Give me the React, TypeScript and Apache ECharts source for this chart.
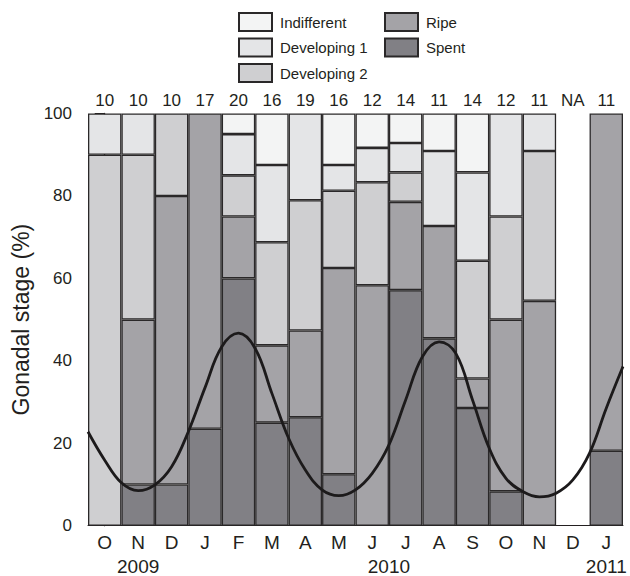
import React, { useEffect, useRef } from 'react';
import * as echarts from 'echarts';

const months = ['O', 'N', 'D', 'J', 'F', 'M', 'A', 'M', 'J', 'J', 'A', 'S', 'O', 'N', 'D', 'J'];
const sampleSizes = ['10', '10', '10', '17', '20', '16', '19', '16', '12', '14', '11', '14', '12', '11', 'NA', '11'];
const yearPositions = [1, 8.5, 15];
const yearLabels = ['2009', '2010', '2011'];

const indifferent = [0, 0, 0, 0, 5, 12.5, 0, 12.5, 8.33, 7.14, 9.09, 14.29, 0, 0, null, 0];
const developing1 = [10, 10, 0, 0, 10, 18.75, 21.05, 6.25, 8.33, 7.14, 18.18, 21.43, 25, 9.09, null, 0];
const developing2 = [90, 40, 20, 0, 10, 25, 31.58, 18.75, 25, 7.14, 0, 28.57, 25, 36.36, null, 0];
const ripe = [0, 40, 70, 76.47, 15, 18.75, 21.05, 50, 58.33, 21.43, 27.27, 7.14, 41.67, 54.55, null, 81.82];
const spent = [0, 10, 10, 23.53, 60, 25, 26.32, 12.5, 0, 57.14, 45.45, 28.57, 8.33, 0, null, 18.18];

// fitted curve at half-month positions
const curveX = [-0.5, 0, 0.5, 1, 1.5, 2, 2.5, 3, 3.5, 4, 4.5, 5, 5.5, 6, 6.5, 7, 7.5, 8, 8.5, 9, 9.5, 10, 10.5, 11, 11.5, 12, 12.5, 13, 13.5, 14, 14.5, 15, 15.5];
const curveY = [22.8, 15.9, 10.4, 8.5, 9.9, 14.3, 22.8, 33.5, 43.4, 46.7, 43.0, 32.1, 21.2, 13.5, 8.7, 7.3, 8.7, 12.7, 19.6, 30.5, 41.0, 44.6, 41.8, 30.5, 18.8, 11.5, 8.3, 7.0, 7.9, 11.1, 17.6, 28.5, 38.6];

const FONT = '"Liberation Sans", Arial, Helvetica, sans-serif';
const INK = '#231f20';
const BORDER = '#2a2829';

const stages = [
  { name: 'Spent', data: spent, color: '#818085' },
  { name: 'Ripe', data: ripe, color: '#a4a3a7' },
  { name: 'Developing 2', data: developing2, color: '#cfcfd1' },
  { name: 'Developing 1', data: developing1, color: '#e4e5e7' },
  { name: 'Indifferent', data: indifferent, color: '#f3f4f4' },
];

export default function App() {
  const ref = useRef<HTMLDivElement>(null);
  useEffect(() => {
    const chart = echarts.init(ref.current as HTMLDivElement, null, { renderer: 'svg' });
    const barSeries = stages.map((s) => ({
      name: s.name,
      type: 'bar',
      stack: 'gonad',
      xAxisIndex: 0,
      yAxisIndex: 0,
      barCategoryGap: '0%',
      data: s.data.map((v) => (v ? v : '-')),
      itemStyle: { color: s.color, borderColor: BORDER, borderWidth: 1.3 },
      emphasis: { disabled: true },
    }));
    const legendCommon = {
      orient: 'vertical',
      top: 7,
      icon: 'rect',
      itemWidth: 33,
      itemHeight: 18,
      itemGap: 5.5,
      selectedMode: false,
      textStyle: { fontFamily: FONT, fontSize: 15, color: INK, padding: [0, 0, 0, 3] },
    };
    chart.setOption({
      animation: false,
      backgroundColor: '#ffffff',
      textStyle: { fontFamily: FONT },
      legend: [
        { ...legendCommon, left: 233, data: ['Indifferent', 'Developing 1', 'Developing 2'] },
        { ...legendCommon, left: 379, data: ['Ripe', 'Spent'] },
      ],
      grid: { left: 88, right: 7, top: 113.5, bottom: 50.3, containLabel: false },
      xAxis: [
        {
          type: 'category',
          data: months,
          position: 'bottom',
          axisLine: { show: true, lineStyle: { color: INK, width: 1 } },
          axisTick: { show: false },
          axisLabel: { fontSize: 19, color: INK, margin: 7, fontFamily: FONT },
        },
        {
          type: 'value',
          min: -0.5,
          max: 15.5,
          position: 'bottom',
          axisLine: { show: false },
          axisTick: { show: false },
          splitLine: { show: false },
          axisLabel: {
            customValues: yearPositions,
            formatter: (v: number) => {
              const i = yearPositions.indexOf(v);
              return i >= 0 ? yearLabels[i] : '';
            },
            fontSize: 19,
            color: INK,
            margin: 31,
            fontFamily: FONT,
          },
        },
        {
          type: 'category',
          data: sampleSizes,
          position: 'top',
          axisLine: { show: false },
          axisTick: { show: false },
          axisLabel: { fontSize: 17, color: INK, margin: 5, fontFamily: FONT },
        },
      ],
      yAxis: {
        type: 'value',
        min: 0,
        max: 100,
        interval: 20,
        axisLine: { show: true, lineStyle: { color: INK, width: 1.3 } },
        axisTick: { show: true, inside: false, length: 10, lineStyle: { color: INK, width: 1 } },
        splitLine: { show: false },
        axisLabel: { fontSize: 17, color: INK, margin: 16, fontFamily: FONT },
        name: 'Gonadal stage (%)',
        nameLocation: 'middle',
        nameRotate: 90,
        nameGap: 53,
        nameTextStyle: { fontSize: 23, color: INK, fontFamily: FONT },
      },
      series: [
        ...barSeries,
        {
          name: 'fit',
          type: 'line',
          xAxisIndex: 1,
          yAxisIndex: 0,
          data: curveX.map((x, i) => [x, curveY[i]]),
          smooth: 0.4,
          showSymbol: false,
          symbol: 'none',
          lineStyle: { color: '#1c1a1b', width: 2.8 },
          z: 10,
          emphasis: { disabled: true },
        },
      ],
    });
    return () => chart.dispose();
  }, []);
  return (
    <div
      ref={ref}
      style={{ position: 'fixed', left: 0, top: 0, width: 630, height: 576, background: '#fff' }}
    />
  );
}
